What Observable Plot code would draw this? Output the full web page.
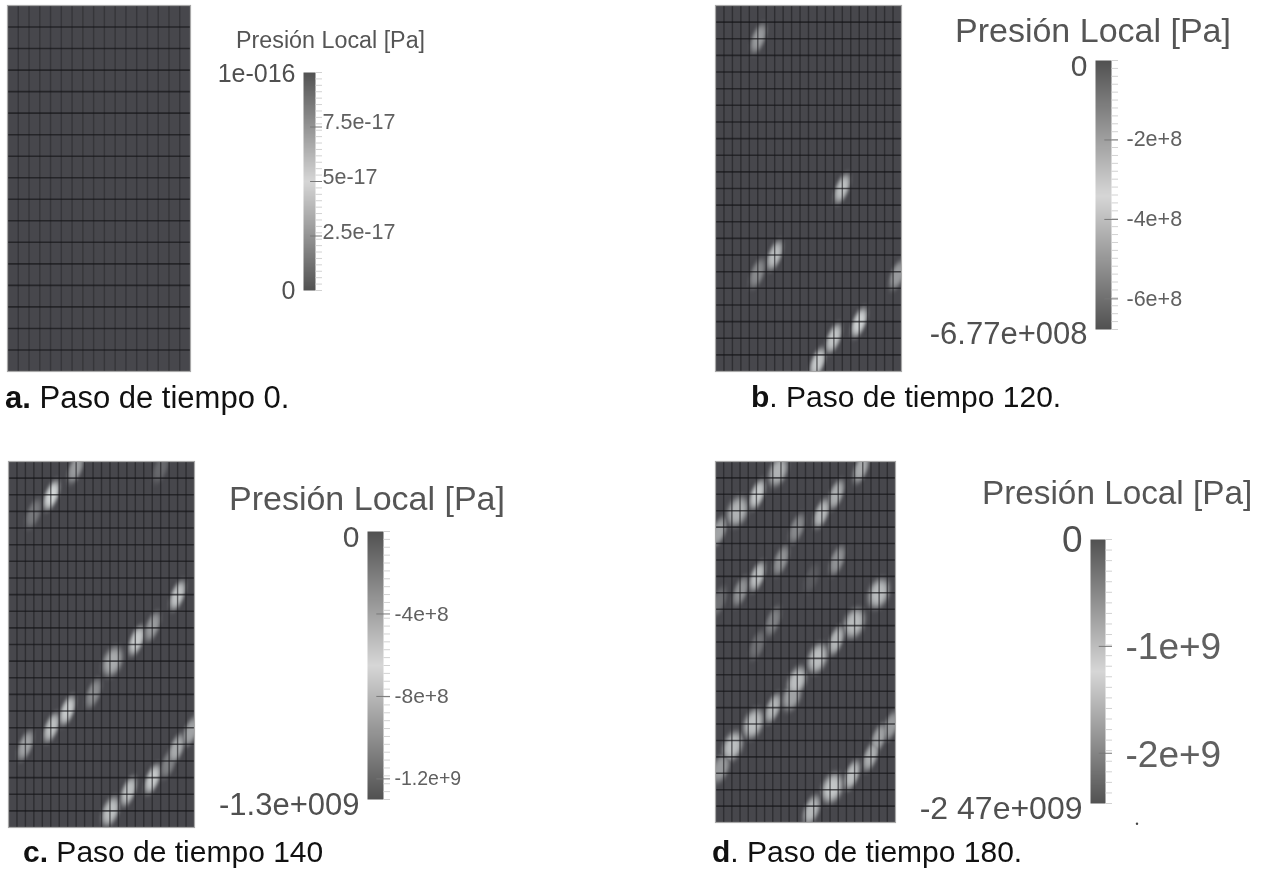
<!DOCTYPE html>
<html lang="es"><head><meta charset="utf-8">
<script src="https://cdn.jsdelivr.net/npm/d3@7"></script>
<script src="https://cdn.jsdelivr.net/npm/@observablehq/plot@0.6"></script>
<style>
html,body{margin:0;background:#fff}
#page{position:relative;width:1269px;height:870px;overflow:hidden;font-family:"Liberation Sans",Arial,sans-serif}
#page svg{position:absolute;overflow:visible;background:transparent}
.title{position:absolute;color:#555;white-space:nowrap;filter:blur(.4px);line-height:1}
.cap{position:absolute;color:#111;white-space:nowrap;font-size:30px;line-height:1;filter:blur(.3px)}
</style></head><body><div id="page"></div>
<script>
// Step captions
const captionBold = ["a.", "b", "c.", "d"];
const captionRest = [" Paso de tiempo 0.", ". Paso de tiempo 120.", " Paso de tiempo 140", ". Paso de tiempo 180."];
const legendTitle = "Presión Local [Pa]";

// Scale end values and labelled ticks of each step
const rangeA = [1e-16, 0], rangeB = [0, -6.77e8], rangeC = [0, -1.3e9], rangeD = [0, -2.47e9];
const endLabelsA = ["1e-016", "0"], endLabelsB = ["0", "-6.77e+008"], endLabelsC = ["0", "-1.3e+009"], endLabelsD = ["0", "-2 47e+009"];
const ticksA = [7.5e-17, 5e-17, 2.5e-17], tickLabelsA = ["7.5e-17", "5e-17", "2.5e-17"];
const ticksB = [-2e8, -4e8, -6e8], tickLabelsB = ["-2e+8", "-4e+8", "-6e+8"];
const ticksC = [-4e8, -8e8, -1.2e9], tickLabelsC = ["-4e+8", "-8e+8", "-1.2e+9"];
const ticksD = [-1e9, -2e9], tickLabelsD = ["-1e+9", "-2e+9"];

// Pressure blobs: [mesh column, mesh row, relative magnitude, widening]
const blobsA = [];
const blobsB = [[5.08,1.98,.5],[14.98,11,.72],[7.01,15.02,.7],[4.95,16.1,.4],[21.5,16.2,.5],[17,19.05,.82],[13.98,20,.75],[12.09,21.45,.78]];
const blobsC = [[7.93,.42,.5],[5.09,2.04,.85],[2.96,3.13,.3],[17.99,.42,.2],[20,8.05,.75],[17.04,9.92,.5],[15.15,10.76,.78],[12.31,12.02,.6,1.4],[10.06,13.94,.42],[6.98,14.96,.78],[5.09,15.99,.72],[2.01,17.07,.55],[21.54,16.23,.55],[19.88,17.25,.6],[18.93,18.15,.35],[17.04,19.08,.78],[14.2,19.83,.72],[12.07,21.03,.72,1.2]];
const blobsD = [[7.65,.61,.65,1.3],[5.11,2.01,.78],[2.69,3.04,.65,1.5],[.41,4.26,.55],[17.78,.43,.6],[14.75,2.01,.62],[12.96,3.16,.68],[9.94,4.08,.4],[8.01,6.03,.45],[14.87,6.03,.45],[5.11,7,.72],[3.06,7.91,.45],[.41,8.52,.25],[7.04,9.74,.35],[11.75,7.12,.12],[5.11,11.2,.25],[19.95,8.03,.7,1.5],[16.94,9.86,.7,1.5],[14.75,10.9,.66],[12.47,11.99,.72,1.4],[9.94,13.39,.72,1.3],[9.34,14.3,.55,1.3],[7.04,15.03,.66],[4.63,15.97,.72,1.4],[2.1,17.35,.72,1.4],[.64,18.69,.5,1.2],[21.4,16.13,.5],[19.95,16.86,.55],[18.97,17.96,.62],[16.68,19.11,.72],[14.27,19.9,.76,1.5],[11.74,21.24,.68,1.1]];

const steps = [
 {blobs:blobsA, cols:17, rows:17, mesh:[7,5,183,366], vOp:.42, bar:[303,72,12,218], range:rangeA, mid:5e-17, minor:34,
  ends:endLabelsA, endSizes:[25,25], endDy:[1,0], ticks:ticksA, labels:tickLabelsA, tickSize:[21.5,21.5,21.5], tickDx:7, tickDy:[-5,-4,-4],
  title:[236,29,23.3], cap:[5,382,31]},
 {blobs:blobsB, cols:22, rows:22, mesh:[715,5,186,366], vOp:.62, bar:[1095,60,16,269], range:rangeB, mid:-3.4e8, minor:34,
  ends:endLabelsB, endSizes:[30,31], endDy:[6,5], ticks:ticksB, labels:tickLabelsB, tickSize:[21.5,21.5,21.5], tickDx:15, tickDy:[-1,0,0],
  title:[955,13,34], cap:[751,382,30]},
 {blobs:blobsC, cols:22, rows:22, mesh:[8,461,186,366], vOp:.62, bar:[367,531,16,268], range:rangeC, mid:-6.5e8, minor:34,
  ends:endLabelsC, endSizes:[30,31], endDy:[6,6], ticks:ticksC, labels:tickLabelsC, tickSize:[21,21,19.5], tickDx:11, tickDy:[0,0,0],
  title:[229,481,34], cap:[23,837,30]},
 {blobs:blobsD, cols:22, rows:22, mesh:[715,461,180,361], vOp:.62, bar:[1090,539,15,264], range:rangeD, mid:-1.235e9, minor:25,
  ends:endLabelsD, endSizes:[37,32], endDy:[1,5], ticks:ticksD, labels:tickLabelsD, tickSize:[37,37], tickDx:20, tickDy:[1,2],
  title:[982,476,33.3], cap:[712,837,30]}
];

const page = document.getElementById("page");
const tilt = 20 * Math.PI / 180;

function field(step, x, y) {
  const cw = step.mesh[2] / step.cols, rh = step.mesh[3] / step.rows;
  let v = 0;
  for (const [c, r, m, w = 1] of step.blobs) {
    const dx = (x - c) * cw, dy = (y - r) * rh;
    const along = dx * Math.sin(tilt) - dy * Math.cos(tilt);
    const across = dx * Math.cos(tilt) + dy * Math.sin(tilt);
    const q = (along / 15) ** 2 + (across / (6.5 * w)) ** 2;
    v = Math.max(v, m * Math.exp(-Math.pow(q, 2)));
  }
  return v;
}

steps.forEach((s, i) => {
  const [mx, my, mw, mh] = s.mesh;
  const mesh = Plot.plot({
    width: mw, height: mh, margin: 0,
    x: {domain: [0, s.cols], axis: null},
    y: {domain: [0, s.rows], range: [0, mh], axis: null},
    color: {type: "linear", domain: [0, 1], range: ["#47474c", "#eaeeee"]},
    marks: [
      Plot.raster({x1: 0, y1: 0, x2: s.cols, y2: s.rows, fill: (x, y) => field(s, x, y), pixelSize: 1}),
      Plot.ruleX(d3.range(1, s.cols), {stroke: "#1e1e22", strokeWidth: 1.4, strokeOpacity: s.vOp}),
      Plot.ruleY(d3.range(1, s.rows), {stroke: "#141418", strokeWidth: 1.6, strokeOpacity: .68}),
      Plot.frame({stroke: "#a8a8a8", strokeWidth: 1.2})
    ]
  });
  mesh.style.left = mx + "px"; mesh.style.top = my + "px";
  mesh.style.filter = "blur(.7px)";
  page.append(mesh);

  const [bx, by, bw, bh] = s.bar;
  const mL = 260, mR = 200, mT = 40, mB = 40;
  const [hi, lo] = s.range;
  const step = (hi - lo) / s.minor;
  const minorTicks = d3.range(0, s.minor + 1).map(k => hi - k * step);
  const marks = [
    Plot.raster({x1: 0, y1: lo, x2: 1, y2: hi, fill: (x, y) => y, pixelSize: 1}),
    Plot.link(minorTicks, {x1: 1, x2: 1 + 6.5 / bw, y1: d => d, y2: d => d, stroke: "#d2d2d2", strokeWidth: 1}),
    Plot.link(s.ticks, {x1: .55, x2: 1 + 6.5 / bw, y1: d => d, y2: d => d, stroke: "#777", strokeWidth: 1})
  ];
  s.range.forEach((v, k) => marks.push(Plot.text([v], {x: 0, y: d => d, text: () => s.ends[k], textAnchor: "end", dx: -8, dy: s.endDy[k],
    fontSize: s.endSizes[k], fill: "#505050"})));
  s.ticks.forEach((v, k) => marks.push(Plot.text([v], {x: 1, y: d => d, text: () => s.labels[k], textAnchor: "start", dx: s.tickDx, dy: s.tickDy[k],
    fontSize: s.tickSize[k], fill: "#606060"})));
  if (i === 3) marks.push(Plot.dot([-2.66e9], {x: 3.1, y: d => d, r: 1.2, fill: "#444"}));

  const bar = Plot.plot({
    width: bw + mL + mR, height: bh + mT + mB,
    marginLeft: mL, marginRight: mR, marginTop: mT, marginBottom: mB,
    style: {fontFamily: "Liberation Sans, Arial, sans-serif", background: "transparent", overflow: "visible"},
    x: {domain: [0, 1], axis: null},
    y: {domain: [lo, hi], axis: null},
    color: {type: "linear", domain: [lo, s.mid, hi], range: ["#525252", "#d6d6d6", "#525252"]},
    marks
  });
  bar.style.left = (bx - mL) + "px"; bar.style.top = (by - mT) + "px";
  bar.style.filter = "blur(.4px)";
  page.append(bar);

  const t = document.createElement("div");
  t.className = "title"; t.textContent = legendTitle;
  t.style.left = s.title[0] + "px"; t.style.top = s.title[1] + "px"; t.style.fontSize = s.title[2] + "px";
  page.append(t);

  const c = document.createElement("div");
  c.className = "cap";
  const b = document.createElement("b"); b.textContent = captionBold[i];
  c.append(b, document.createTextNode(captionRest[i]));
  c.style.left = s.cap[0] + "px"; c.style.top = s.cap[1] + "px"; c.style.fontSize = s.cap[2] + "px";
  page.append(c);
});
</script></body></html>
